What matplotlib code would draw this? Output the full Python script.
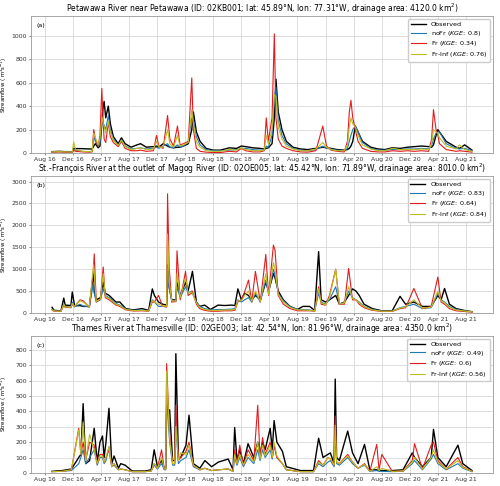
import matplotlib
matplotlib.use("Agg")
import matplotlib.pyplot as plt
import matplotlib.dates as mdates
import numpy as np
import pandas as pd

# ---- (a) Petawawa River near Petawawa ----
PET_DATES = [
    "2016-09-01", "2016-10-01", "2016-11-01", "2016-11-28", "2016-12-04", "2016-12-12",
    "2017-01-10", "2017-02-10", "2017-02-22", "2017-03-01", "2017-03-08", "2017-03-20",
    "2017-03-28", "2017-04-05", "2017-04-10", "2017-04-15", "2017-04-22", "2017-05-03",
    "2017-05-12", "2017-05-25", "2017-06-15", "2017-06-29", "2017-07-15", "2017-08-10",
    "2017-09-05", "2017-09-20", "2017-10-15", "2017-11-15", "2017-11-28", "2017-12-08",
    "2017-12-27", "2018-01-15", "2018-01-25", "2018-02-10", "2018-02-27", "2018-03-10",
    "2018-03-25", "2018-04-15", "2018-04-30", "2018-05-07", "2018-05-20", "2018-06-05",
    "2018-07-01", "2018-08-01", "2018-09-01", "2018-10-10", "2018-11-10", "2018-12-01",
    "2018-12-20", "2019-01-20", "2019-02-20", "2019-03-10", "2019-03-19", "2019-03-28",
    "2019-04-13", "2019-04-23", "2019-04-30", "2019-05-10", "2019-05-26", "2019-06-14",
    "2019-07-13", "2019-08-15", "2019-09-15", "2019-10-20", "2019-11-19", "2019-12-05",
    "2019-12-25", "2020-01-20", "2020-02-20", "2020-03-05", "2020-03-13", "2020-03-20",
    "2020-03-28", "2020-04-08", "2020-04-20", "2020-05-09", "2020-06-14", "2020-07-15",
    "2020-08-15", "2020-09-15", "2020-10-20", "2020-11-20", "2020-12-20", "2021-01-20",
    "2021-02-20", "2021-03-05", "2021-03-13", "2021-03-24", "2021-04-01", "2021-04-08",
    "2021-05-07", "2021-06-19", "2021-07-04", "2021-07-26", "2021-08-27",
]
PET_OBS = [
    12, 15, 12, 10, 40, 38, 38, 35, 35, 60, 80, 45,
    60, 250, 380, 440, 300, 400, 250, 140, 80, 130, 80, 50,
    70, 80, 50, 55, 60, 50, 80, 60, 50, 45, 50, 50,
    60, 80, 200, 350, 180, 100, 40, 25, 25, 45, 40, 60,
    55, 45, 40, 35, 40, 45, 80, 300, 630, 350, 200, 100,
    50, 35, 30, 40, 50, 45, 40, 30, 25, 30, 40, 60,
    100, 230, 180, 100, 50, 35, 30, 45, 40, 50, 55, 60,
    55, 50, 70, 150, 200, 180, 100, 50, 40, 70, 25,
]
PET_NOFR = [
    10, 12, 10, 8, 30, 25, 15, 12, 15, 140, 100, 60,
    80, 300, 250, 240, 200, 320, 200, 120, 65, 110, 60, 35,
    40, 45, 35, 40, 50, 40, 60, 80, 50, 45, 70, 50,
    60, 100, 300, 280, 140, 70, 30, 20, 20, 25, 30, 40,
    40, 30, 25, 25, 60, 50, 150, 450, 560, 280, 150, 80,
    40, 25, 20, 30, 60, 40, 35, 25, 20, 40, 100, 150,
    200, 230, 180, 90, 40, 25, 25, 30, 30, 35, 35, 40,
    35, 60, 120, 170, 180, 180, 80, 40, 35, 40, 20,
]
PET_FR = [
    8, 10, 8, 8, 25, 15, 10, 8, 10, 200, 120, 60,
    150, 550, 300, 120, 90, 260, 140, 90, 55, 100, 40, 20,
    20, 25, 15, 20, 150, 60, 40, 320, 120, 60, 230, 70,
    80, 100, 640, 200, 40, 15, 8, 5, 5, 15, 10, 40,
    20, 10, 10, 20, 300, 100, 300, 1015, 300, 120, 60, 40,
    20, 10, 8, 20, 230, 60, 25, 15, 10, 100, 350, 450,
    300, 200, 100, 40, 15, 10, 10, 20, 15, 20, 15, 20,
    15, 120, 370, 200, 150, 80, 30, 15, 20, 15, 8,
]
PET_FRINF = [
    10, 12, 10, 9, 95, 30, 15, 12, 15, 170, 130, 70,
    120, 310, 260, 230, 170, 270, 180, 110, 65, 110, 55, 30,
    40, 45, 30, 35, 100, 50, 50, 200, 80, 50, 150, 60,
    70, 90, 370, 250, 100, 50, 20, 15, 15, 30, 25, 45,
    30, 20, 20, 25, 150, 80, 200, 500, 480, 220, 120, 60,
    35, 20, 20, 35, 90, 50, 30, 20, 20, 70, 220, 300,
    250, 220, 150, 70, 35, 20, 20, 40, 30, 30, 30, 35,
    30, 80, 200, 180, 170, 130, 60, 35, 70, 30, 15,
]

# ---- (b) St.-Francois River at the outlet of Magog River ----
STF_DATES = [
    "2016-09-01", "2016-09-10", "2016-10-10", "2016-10-22", "2016-10-28", "2016-11-22",
    "2016-11-28", "2016-12-08", "2016-12-31", "2017-01-14", "2017-02-10", "2017-02-28",
    "2017-03-03", "2017-03-12", "2017-03-30", "2017-04-11", "2017-04-20", "2017-05-07",
    "2017-06-05", "2017-06-22", "2017-07-18", "2017-08-20", "2017-09-26", "2017-10-25",
    "2017-11-10", "2017-11-19", "2017-12-07", "2017-12-25", "2018-01-11", "2018-01-15",
    "2018-01-22", "2018-02-02", "2018-02-20", "2018-02-25", "2018-03-11", "2018-04-03",
    "2018-04-14", "2018-04-29", "2018-05-03", "2018-05-20", "2018-06-03", "2018-06-25",
    "2018-07-20", "2018-08-22", "2018-09-20", "2018-10-19", "2018-11-03", "2018-11-16",
    "2018-12-01", "2018-12-15", "2019-01-01", "2019-01-15", "2019-01-31", "2019-02-21",
    "2019-03-17", "2019-03-29", "2019-04-19", "2019-04-26", "2019-05-10", "2019-06-01",
    "2019-06-30", "2019-08-01", "2019-08-25", "2019-09-23", "2019-10-15", "2019-11-01",
    "2019-11-12", "2019-12-01", "2019-12-18", "2020-01-14", "2020-01-30", "2020-02-21",
    "2020-03-10", "2020-03-27", "2020-04-11", "2020-04-25", "2020-05-16", "2020-06-21",
    "2020-08-01", "2020-09-15", "2020-10-19", "2020-11-12", "2020-12-18", "2021-01-24",
    "2021-03-03", "2021-04-01", "2021-04-15", "2021-04-30", "2021-05-21", "2021-06-19",
    "2021-08-01", "2021-08-27",
]
STF_OBS = [
    130, 60, 50, 340, 180, 170, 480, 160, 170, 150, 150, 900,
    500, 300, 350, 700, 450, 400, 250, 250, 100, 70, 100, 60,
    550, 400, 250, 200, 180, 1100, 600, 300, 300, 700, 400, 700,
    500, 850, 950, 250, 150, 180, 80, 180, 170, 180, 170, 550,
    300, 450, 400, 300, 400, 300, 700, 500, 900, 800, 500, 300,
    150, 80, 150, 150, 60, 1400, 300, 250, 300, 400, 200, 250,
    400, 550, 500, 400, 200, 100, 50, 50, 380, 200, 250, 150,
    150, 400, 300, 560, 200, 100, 50, 30,
]
STF_NOFR = [
    80, 50, 45, 200, 150, 130, 250, 140, 200, 160, 140, 700,
    450, 250, 300, 550, 400, 350, 220, 180, 90, 60, 70, 50,
    300, 250, 150, 150, 140, 1000, 550, 300, 260, 600, 350, 600,
    450, 500, 450, 250, 150, 100, 70, 80, 80, 90, 100, 300,
    250, 300, 350, 250, 450, 250, 750, 450, 1000, 850, 450, 280,
    150, 80, 80, 70, 50, 450, 250, 200, 300, 600, 200, 250,
    500, 350, 300, 250, 150, 80, 45, 45, 120, 150, 200, 100,
    120, 450, 300, 250, 150, 80, 45, 30,
]
STF_FR = [
    70, 40, 35, 180, 130, 120, 200, 140, 300, 280, 130, 1000,
    1350, 250, 320, 1050, 350, 300, 180, 150, 70, 45, 50, 40,
    250, 250, 400, 150, 140, 2720, 1050, 250, 260, 1420, 300, 950,
    400, 450, 500, 200, 100, 60, 40, 40, 50, 50, 60, 250,
    300, 480, 750, 250, 950, 250, 1335, 400, 1550, 1430, 400, 200,
    100, 50, 50, 50, 40, 600, 200, 180, 400, 1000, 200, 200,
    1015, 300, 300, 200, 120, 60, 35, 35, 100, 120, 560, 100,
    150, 820, 250, 200, 100, 50, 30, 20,
]
STF_FRINF = [
    80, 45, 40, 200, 140, 130, 220, 150, 280, 250, 140, 1100,
    900, 260, 320, 900, 380, 330, 200, 170, 80, 55, 60, 45,
    280, 250, 200, 160, 150, 1800, 700, 280, 270, 900, 350, 800,
    450, 480, 450, 230, 130, 80, 60, 60, 70, 70, 80, 280,
    280, 400, 500, 270, 500, 260, 900, 420, 1150, 1000, 420, 250,
    130, 70, 70, 60, 45, 550, 230, 190, 350, 1000, 200, 230,
    600, 330, 300, 230, 140, 70, 40, 40, 110, 140, 300, 110,
    130, 500, 280, 230, 130, 70, 40, 25,
]

# ---- (c) Thames River at Thamesville ----
THA_DATES = [
    "2016-09-01", "2016-10-15", "2016-11-24", "2016-12-26", "2017-01-04", "2017-01-14",
    "2017-01-25", "2017-02-11", "2017-03-03", "2017-03-16", "2017-03-28", "2017-04-08",
    "2017-04-15", "2017-04-23", "2017-05-06", "2017-05-18", "2017-05-28", "2017-06-16",
    "2017-06-26", "2017-07-15", "2017-08-15", "2017-10-10", "2017-11-05", "2017-11-18",
    "2017-12-02", "2017-12-20", "2018-01-01", "2018-01-07", "2018-01-11", "2018-01-24",
    "2018-02-06", "2018-02-15", "2018-02-20", "2018-03-03", "2018-03-13", "2018-04-05",
    "2018-04-18", "2018-05-07", "2018-06-04", "2018-06-26", "2018-07-25", "2018-08-23",
    "2018-10-05", "2018-10-26", "2018-11-02", "2018-11-12", "2018-11-24", "2018-12-10",
    "2018-12-30", "2019-01-24", "2019-02-10", "2019-02-20", "2019-03-03", "2019-03-14",
    "2019-04-05", "2019-04-14", "2019-04-22", "2019-05-04", "2019-05-28", "2019-06-14",
    "2019-08-15", "2019-10-10", "2019-11-01", "2019-11-20", "2019-12-11", "2019-12-22",
    "2020-01-07", "2020-01-12", "2020-01-18", "2020-01-30", "2020-03-06", "2020-03-27",
    "2020-04-20", "2020-05-18", "2020-06-10", "2020-07-10", "2020-07-20", "2020-08-01",
    "2020-09-15", "2020-11-01", "2020-12-11", "2020-12-21", "2021-01-24", "2021-03-03",
    "2021-03-13", "2021-04-01", "2021-05-07", "2021-06-27", "2021-07-18", "2021-08-27",
]
THA_OBS = [
    10, 15, 25, 100, 120, 450, 60, 80, 290, 70, 200, 240,
    100, 200, 420, 60, 110, 30, 60, 50, 12, 12, 20, 150,
    40, 80, 30, 30, 400, 410, 80, 80, 775, 100, 100, 180,
    375, 60, 30, 80, 40, 70, 90, 20, 295, 80, 150, 60,
    190, 100, 200, 120, 200, 150, 290, 150, 340, 200, 140, 40,
    15, 15, 225, 100, 120, 130, 60, 610, 100, 80, 272, 130,
    60, 185, 20, 20, 15, 15, 15, 20, 130, 100, 40, 100,
    283, 100, 40, 180, 60, 15,
]
THA_NOFR = [
    8, 10, 15, 60, 100, 150, 60, 100, 150, 50, 100, 100,
    60, 80, 170, 40, 50, 20, 25, 20, 8, 8, 12, 50,
    25, 60, 20, 20, 500, 200, 50, 50, 300, 60, 80, 100,
    150, 40, 20, 30, 15, 20, 25, 10, 100, 50, 100, 40,
    100, 60, 150, 80, 150, 100, 150, 90, 180, 100, 60, 20,
    8, 8, 60, 40, 70, 80, 40, 280, 60, 50, 100, 60,
    30, 50, 10, 15, 10, 10, 8, 10, 60, 80, 20, 90,
    120, 60, 20, 60, 30, 8,
]
THA_FR = [
    8, 10, 20, 290, 120, 200, 80, 200, 180, 60, 120, 120,
    70, 100, 150, 40, 60, 20, 25, 20, 8, 8, 12, 60,
    30, 150, 25, 25, 710, 250, 60, 60, 440, 80, 100, 140,
    200, 50, 20, 30, 15, 20, 25, 10, 150, 60, 180, 50,
    150, 80, 440, 100, 230, 120, 200, 100, 180, 100, 60, 20,
    8, 8, 80, 50, 100, 90, 50, 370, 70, 60, 120, 70,
    30, 60, 10, 185, 20, 120, 10, 12, 80, 190, 25, 180,
    200, 80, 25, 100, 40, 10,
]
THA_FRINF = [
    8, 10, 20, 280, 120, 330, 80, 250, 150, 60, 110, 110,
    70, 100, 170, 40, 60, 20, 25, 20, 8, 8, 12, 60,
    30, 100, 25, 25, 660, 220, 60, 60, 300, 80, 130, 120,
    180, 50, 20, 30, 15, 20, 25, 10, 120, 60, 120, 50,
    120, 70, 200, 90, 180, 110, 180, 100, 200, 110, 60, 20,
    8, 8, 70, 50, 100, 90, 50, 310, 70, 60, 110, 70,
    30, 55, 10, 40, 15, 30, 10, 12, 70, 100, 25, 100,
    150, 70, 25, 80, 35, 10,
]

TITLES = [
    "Petawawa River near Petawawa (ID: 02KB001; lat: 45.89°N, lon: 77.31°W, drainage area: 4120.0 km$^2$)",
    "St.-François River at the outlet of Magog River (ID: 02OE005; lat: 45.42°N, lon: 71.89°W, drainage area: 8010.0 km$^2$)",
    "Thames River at Thamesville (ID: 02GE003; lat: 42.54°N, lon: 81.96°W, drainage area: 4350.0 km$^2$)",
]
PANEL_TAGS = ["(a)", "(b)", "(c)"]
KGE = [(0.8, 0.34, 0.76), (0.83, 0.64, 0.84), (0.49, 0.6, 0.56)]

COLORS = {"obs": "black", "nofr": "#1f77b4", "fr": "#e41a1c", "frinf": "#bcbd22"}


def plot_panel(ax, dates, obs, nofr, fr, frinf, title, tag, kge):
    t = pd.to_datetime(dates)
    ax.plot(t, obs, color=COLORS["obs"], lw=1.0, label="Observed")
    ax.plot(t, nofr, color=COLORS["nofr"], lw=0.8, label=f"noFr ($KGE$: {kge[0]})")
    ax.plot(t, fr, color=COLORS["fr"], lw=0.8, label=f"Fr ($KGE$: {kge[1]})")
    ax.plot(t, frinf, color=COLORS["frinf"], lw=0.8, label=f"Fr-Inf ($KGE$: {kge[2]})")

    ymax = max(max(obs), max(nofr), max(fr), max(frinf))
    ax.set_ylim(0, ymax * 1.15)
    ax.margins(x=0.05)

    ax.xaxis.set_major_locator(mdates.MonthLocator(bymonth=[4, 8, 12]))
    ax.xaxis.set_major_formatter(mdates.DateFormatter("%b %y"))
    ax.tick_params(labelsize=4.4, length=1.5, width=0.4, pad=1.5, colors="#333333")
    ax.grid(True, color="#d8d8d8", linewidth=0.6)
    ax.set_axisbelow(True)
    for s in ax.spines.values():
        s.set_color("#999999")
        s.set_linewidth(0.6)

    ax.set_ylabel("Streamflow ( m$^3$s$^{-1}$)", fontsize=3.9)
    ax.yaxis.set_label_coords(-0.048, 0.5)
    ax.set_title(title, fontsize=5.5, pad=3)
    ax.text(0.012, 0.95, tag, transform=ax.transAxes, fontsize=4.6, va="top", ha="left")
    ax.legend(loc="upper right", fontsize=4.6, handlelength=2.4, borderpad=0.4,
              labelspacing=0.25, framealpha=1.0, edgecolor="#cccccc")


def main():
    fig = plt.figure(figsize=(5.0, 4.86), dpi=100)
    boxes = [0.685, 0.356, 0.027]
    data = [
        (PET_DATES, PET_OBS, PET_NOFR, PET_FR, PET_FRINF),
        (STF_DATES, STF_OBS, STF_NOFR, STF_FR, STF_FRINF),
        (THA_DATES, THA_OBS, THA_NOFR, THA_FR, THA_FRINF),
    ]
    for i, (bottom, d) in enumerate(zip(boxes, data)):
        ax = fig.add_axes([0.062, bottom, 0.924, 0.282])
        plot_panel(ax, *d, TITLES[i], PANEL_TAGS[i], KGE[i])

    fig.savefig("out.png", dpi=100)
    plt.close(fig)


if __name__ == "__main__":
    main()
